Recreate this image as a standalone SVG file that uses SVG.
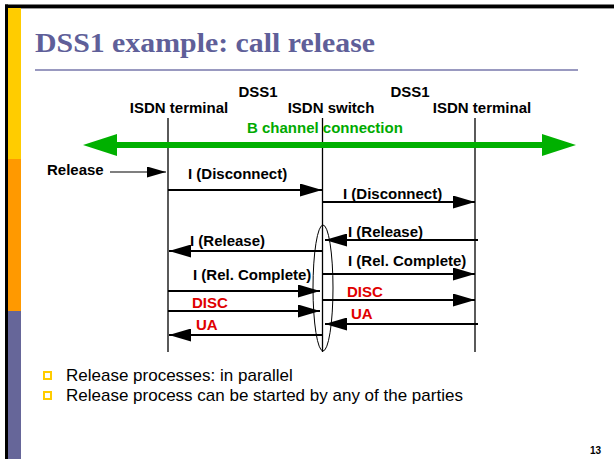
<svg xmlns="http://www.w3.org/2000/svg" width="614" height="459" viewBox="0 0 614 459">
  <style>
    .lbl { font-family: "Liberation Sans", Arial, sans-serif; font-weight: bold; font-size: 15px; fill: #000; }
    .red { fill: #e00000; }
    .green { fill: #00aa00; }
    .life { stroke: #000; stroke-width: 1.3; fill: none; }
    .msg { stroke: #000; stroke-width: 2; fill: none; marker-end: url(#head); }
    .bullet { font-family: "Liberation Sans", Arial, sans-serif; font-size: 17px; fill: #000; }
  </style>
  <defs>
    <marker id="head" viewBox="0 0 22 13" refX="22" refY="6.5" markerWidth="22" markerHeight="13" markerUnits="userSpaceOnUse" orient="auto">
      <path d="M0,0 L22,6.5 L0,13 Z" fill="#000"/>
    </marker>
    <marker id="headSmall" viewBox="0 0 19 11" refX="19" refY="5.5" markerWidth="19" markerHeight="11" markerUnits="userSpaceOnUse" orient="auto">
      <path d="M0,0 L19,5.5 L0,11 Z" fill="#000"/>
    </marker>
  </defs>

  <!-- slide frame -->
  <rect x="0" y="0" width="614" height="459" fill="#fff"/>
  <rect x="5" y="4.5" width="609" height="3.5" fill="#000"/>
  <rect x="5" y="8" width="609" height="1" fill="#999"/>
  <rect x="5" y="4.5" width="3" height="454.5" fill="#000"/>
  <rect x="8" y="8" width="13" height="151" fill="#ffcc00"/>
  <rect x="8" y="159" width="13" height="152" fill="#ff9900"/>
  <rect x="8" y="311" width="13" height="148" fill="#666699"/>

  <!-- title -->
  <text x="35" y="52" font-family="'Liberation Serif', 'Times New Roman', serif" font-weight="bold" font-size="28" fill="#5f5f99" textLength="340" lengthAdjust="spacingAndGlyphs">DSS1 example: call release</text>
  <line x1="35" y1="70" x2="578" y2="70" stroke="#9999c0" stroke-width="2"/>

  <!-- entities -->
  <g id="terminal-a">
    <text class="lbl" x="179" y="113" text-anchor="middle">ISDN terminal</text>
    <line class="life" x1="168" y1="118" x2="168" y2="352"/>
  </g>
  <g id="switch">
    <text class="lbl" x="331" y="113" text-anchor="middle">ISDN switch</text>
    <line class="life" x1="322.5" y1="118" x2="322.5" y2="352"/>
    <ellipse cx="323" cy="288" rx="10" ry="63" fill="none" stroke="#000" stroke-width="1"/>
  </g>
  <g id="terminal-b">
    <text class="lbl" x="482" y="113" text-anchor="middle">ISDN terminal</text>
    <line class="life" x1="475" y1="118" x2="475" y2="352"/>
  </g>
  <g id="interface-labels">
    <text class="lbl" x="258" y="97" text-anchor="middle">DSS1</text>
    <text class="lbl" x="410" y="97" text-anchor="middle">DSS1</text>
  </g>

  <!-- B channel -->
  <g id="b-channel">
    <text class="lbl green" x="247" y="133">B channel connection</text>
    <rect x="114" y="142" width="430" height="6" fill="#00b000"/>
    <path d="M83,145 L117,134 L117,156 Z" fill="#00b000"/>
    <path d="M576,145 L542,134 L542,156 Z" fill="#00b000"/>
  </g>

  <!-- messages -->
  <g id="connectors">
    <text class="lbl" x="47" y="175">Release</text>
    <line x1="110" y1="172" x2="166" y2="172" stroke="#000" stroke-width="1.2" marker-end="url(#headSmall)"/>

    <text class="lbl" x="188" y="179">I (Disconnect)</text>
    <line class="msg" x1="168" y1="190" x2="322" y2="190"/>

    <text class="lbl" x="343" y="199">I (Disconnect)</text>
    <line class="msg" x1="323" y1="202" x2="475" y2="202"/>

    <text class="lbl" x="348" y="237">I (Release)</text>
    <line class="msg" x1="478" y1="240" x2="325" y2="240"/>

    <text class="lbl" x="190" y="246">I (Release)</text>
    <line class="msg" x1="323" y1="251" x2="169" y2="251"/>

    <text class="lbl" x="348" y="266">I (Rel. Complete)</text>
    <line class="msg" x1="323" y1="274" x2="475" y2="274"/>

    <text class="lbl" x="193" y="280">I (Rel. Complete)</text>
    <line class="msg" x1="168" y1="291" x2="320" y2="291"/>

    <text class="lbl red" x="347" y="297">DISC</text>
    <line class="msg" x1="323" y1="300" x2="475" y2="300"/>

    <text class="lbl red" x="192" y="308">DISC</text>
    <line class="msg" x1="168" y1="311" x2="320" y2="311"/>

    <text class="lbl red" x="351" y="319">UA</text>
    <line class="msg" x1="478" y1="324" x2="325" y2="324"/>

    <text class="lbl red" x="196" y="330">UA</text>
    <line class="msg" x1="323" y1="335" x2="169" y2="335"/>
  </g>

  <!-- notes -->
  <rect x="44" y="372" width="7" height="7" fill="none" stroke="#ffcc00" stroke-width="2"/>
  <text class="bullet" x="66" y="381">Release processes: in parallel</text>
  <rect x="44" y="392" width="7" height="7" fill="none" stroke="#ffcc00" stroke-width="2"/>
  <text class="bullet" x="66" y="401">Release process can be started by any of the parties</text>

  <text x="590" y="454" font-family="'Liberation Sans', Arial, sans-serif" font-weight="bold" font-size="10" fill="#000">13</text>
</svg>
